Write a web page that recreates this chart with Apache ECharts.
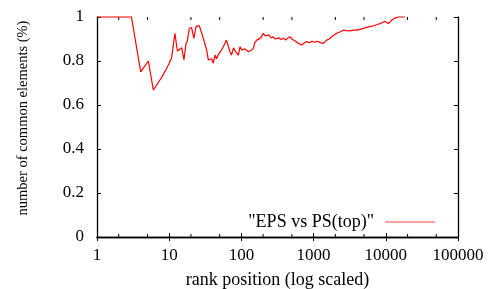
<!DOCTYPE html>
<html>
<head>
<meta charset="utf-8">
<script src="https://cdn.jsdelivr.net/npm/echarts@6/dist/echarts.min.js"></script>
<style>html,body{margin:0;padding:0;background:#fff}#c{width:492px;height:289px}</style>
</head>
<body>
<div id="c"></div>
<script>
const seriesName = '"EPS vs PS(top)"';
const xTitle = 'rank position (log scaled)';
const yTitle = 'number of common elements (%)';
const xTickLabels = ['1', '10', '100', '1000', '10000', '100000'];
const yTickLabels = ['0', '0.2', '0.4', '0.6', '0.8', '1'];
const minorTickValues = [2, 5, 20, 50, 200, 500, 2000, 5000, 20000, 50000];
const ranks = [1, 2, 3, 4.03, 5.14, 6.03, 7, 8, 9, 10, 10.8, 12, 13, 14.9, 16, 17.1, 17.8, 19, 20.4, 22, 23.5, 26.1, 28.2, 29.7, 31.3, 33, 34.8, 36.7, 38.8, 40.8, 43.1, 45.3, 47.5, 50.5, 53.1, 56, 59, 62, 65.7, 69.4, 73, 77.7, 82, 86, 90.7, 95.8, 101, 106, 112, 118, 125, 131, 139, 147, 154, 163, 172, 186, 201, 212, 224, 240, 258, 277, 292, 308, 330, 355, 380, 410, 440, 471, 500, 523, 560, 614, 650, 684, 740, 802, 870, 950, 1030, 1104, 1200, 1280, 1365, 1440, 1517, 1650, 1778, 1930, 2088, 2300, 2577, 2850, 3190, 3550, 3950, 4400, 4880, 5300, 5720, 6200, 6720, 7500, 8310, 9000, 9750, 10300, 10850, 11400, 12000, 12700, 13400, 14100, 15000, 16000, 18400];
const values = [1, 1, 1, 0.751, 0.80, 0.668, 0.70, 0.73, 0.76, 0.79, 0.815, 0.926, 0.845, 0.86, 0.805, 0.88, 0.89, 0.948, 0.952, 0.903, 0.956, 0.961, 0.926, 0.903, 0.895, 0.85, 0.805, 0.797, 0.81, 0.79, 0.827, 0.81, 0.827, 0.82, 0.85, 0.865, 0.88, 0.895, 0.89, 0.842, 0.827, 0.86, 0.845, 0.85, 0.827, 0.865, 0.85, 0.842, 0.855, 0.85, 0.842, 0.835, 0.85, 0.86, 0.885, 0.895, 0.903, 0.905, 0.926, 0.915, 0.91, 0.918, 0.905, 0.91, 0.9, 0.895, 0.905, 0.898, 0.903, 0.895, 0.905, 0.91, 0.9, 0.895, 0.89, 0.88, 0.885, 0.873, 0.882, 0.888, 0.883, 0.89, 0.885, 0.89, 0.886, 0.882, 0.88, 0.888, 0.895, 0.9, 0.91, 0.918, 0.926, 0.932, 0.94, 0.938, 0.937, 0.94, 0.94, 0.944, 0.948, 0.952, 0.955, 0.957, 0.96, 0.965, 0.97, 0.975, 0.98, 0.985, 0.97, 0.977, 0.985, 0.992, 0.995, 0.995, 1, 1, 1];

const font = "'Liberation Serif', 'Times New Roman', 'DejaVu Serif', serif";
const chart = echarts.init(document.getElementById('c'), null, {renderer: 'canvas'});
const axisLine = {show: true, lineStyle: {color: '#000', width: 1.3}};
const xAxisBase = {
  type: 'log', logBase: 10, min: 1, max: 100000,
  axisLine: axisLine,
  axisTick: {show: true, inside: true, length: 4, lineStyle: {color: '#000'}},
  splitLine: {show: false},
  minorTick: {show: false}
};
const yAxisBase = {
  type: 'value', min: 0, max: 1, interval: 0.2,
  axisLine: axisLine,
  axisTick: {show: true, inside: true, length: 4, lineStyle: {color: '#000'}},
  splitLine: {show: false}
};
chart.setOption({
  animation: false,
  backgroundColor: '#fff',
  textStyle: {fontFamily: font},
  grid: {left: 97, right: 34, top: 17, bottom: 52, containLabel: false, outerBoundsMode: 'none'},
  legend: {
    show: true, right: 57, top: 213, align: 'right', padding: 0,
    icon: 'rect', itemWidth: 50, itemHeight: 1.5,
    textStyle: {fontFamily: font, fontSize: 18, color: '#000', padding: [0, 6, 0, 0]},
    data: [{name: seriesName, itemStyle: {color: '#ff8080'}}]
  },
  xAxis: [
    Object.assign({}, xAxisBase, {
      position: 'bottom',
      name: xTitle, nameLocation: 'middle', nameGap: 34,
      nameTextStyle: {fontFamily: font, fontSize: 18, color: '#000'},
      axisLabel: {show: true, margin: 10, fontFamily: font, fontSize: 17, color: '#000',
        formatter: function (v) { const i = Math.round(Math.log10(v)); return xTickLabels[i] !== undefined ? xTickLabels[i] : ''; }}
    }),
    Object.assign({}, xAxisBase, {position: 'top', axisLabel: {show: false}})
  ],
  yAxis: [
    Object.assign({}, yAxisBase, {
      position: 'left',
      name: yTitle, nameLocation: 'middle', nameGap: 66, nameRotate: 90,
      nameTextStyle: {fontFamily: font, fontSize: 14.5, color: '#000', padding: [0, 0, 0, 18]},
      axisLabel: {show: true, margin: 13, fontFamily: font, fontSize: 17, color: '#000',
        formatter: function (v) { const i = Math.round(v / 0.2); return yTickLabels[i]; }}
    }),
    Object.assign({}, yAxisBase, {position: 'right', axisLabel: {show: false}})
  ],
  series: [
    {
      name: seriesName, type: 'line', xAxisIndex: 0, yAxisIndex: 0,
      data: ranks.map((r, i) => [r, values[i]]),
      showSymbol: false, symbol: 'none',
      lineStyle: {color: '#ff0000', width: 1.2},
      itemStyle: {color: '#ff0000'},
      clip: false, z: 3
    },
    {
      name: 'minorTicks', type: 'custom', xAxisIndex: 0, yAxisIndex: 0,
      data: minorTickValues.map(v => [v, 0]),
      silent: true, clip: false,
      renderItem: function (params, api) {
        const b = api.coord([api.value(0), 0]);
        const t = api.coord([api.value(0), 1]);
        return {type: 'group', children: [
          {type: 'line', shape: {x1: b[0], y1: b[1], x2: b[0], y2: b[1] - 3}, style: {stroke: '#000', lineWidth: 1}},
          {type: 'line', shape: {x1: t[0], y1: t[1], x2: t[0], y2: t[1] + 3}, style: {stroke: '#000', lineWidth: 1}}
        ]};
      }
    }
  ]
});
</script>
</body>
</html>
